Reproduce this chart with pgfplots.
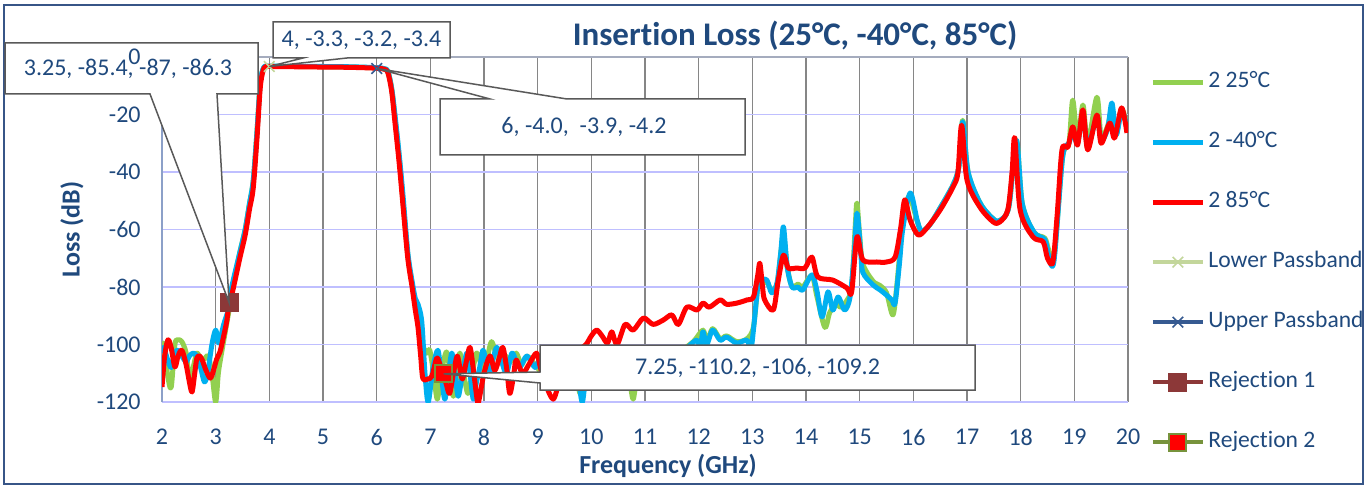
\documentclass[border=0pt]{standalone}
\usepackage{pgfplots}
\pgfplotsset{compat=1.18}
\usepackage{fontspec}
\setmainfont{Carlito}[Ligatures=NoCommon]
\definecolor{txt}{RGB}{31,73,125}
\definecolor{frame}{RGB}{55,85,135}
\definecolor{cgray}{RGB}{89,89,89}
\definecolor{vgrid}{RGB}{134,134,134}
\definecolor{hgrid}{RGB}{191,191,255}
\definecolor{leftaxis}{RGB}{140,160,200}
\definecolor{topline}{RGB}{165,172,190}
\definecolor{cA}{RGB}{146,208,80}
\definecolor{cB}{RGB}{0,176,240}
\definecolor{cC}{RGB}{255,0,0}
\definecolor{lpb}{RGB}{195,214,155}
\definecolor{upb}{RGB}{54,90,145}
\definecolor{rejA}{RGB}{140,56,56}
\definecolor{rejB}{RGB}{119,147,60}
\begin{document}
\begin{tikzpicture}
\path[use as bounding box] (0pt,0pt) rectangle (684pt,244pt);
\draw[frame, line width=0.75pt] (2pt,2pt) rectangle (681.5pt,241.5pt);
\begin{axis}[
  at={(81pt,43pt)}, anchor=south west,
  scale only axis, width=483pt, height=172.5pt,
  xmin=2, xmax=20, ymin=-120, ymax=0,
  clip mode=individual,
  xtick={2,3,4,5,6,7,8,9,10,11,12,13,14,15,16,17,18,19,20},
  xticklabels={2,3,4,5,6,7,8,9,10,11,12,13,14,15,16,17,18,19,20},
  ytick={-120,-100,-80,-60,-40,-20,0},
  yticklabels={-120,-100,-80,-60,-40,-20,{}},
  major tick length=0pt,
  axis line style={draw=none},
  xmajorgrids, ymajorgrids,
  x grid style={color=vgrid, line width=0.6pt},
  y grid style={color=hgrid, line width=0.7pt},
  ticklabel style={font=\fontsize{12}{14}\selectfont, text=txt},
  yticklabel style={inner sep=0pt, xshift=-10.5pt},
  xticklabel style={inner sep=0pt, yshift=-13.5pt},
  xlabel={Frequency (GHz)}, ylabel={Loss (dB)},
  every axis x label/.style={at={(axis description cs:0.5238,-0.1855)}, anchor=center,
    font=\bfseries\fontsize{13}{15}\selectfont, text=txt},
  every axis y label/.style={at={(axis description cs:-0.0932,0.5)}, anchor=center, rotate=90,
    font=\bfseries\fontsize{13}{15}\selectfont, text=txt},
  legend style={at={(axis description cs:1.0228,0.963)}, anchor=north west, draw=none, fill=none,
    font=\fontsize{11.8}{14}\selectfont,
    nodes={inner sep=0pt, text height=8.5pt, text depth=3.5pt, text=txt},
    row sep=18pt, column sep=1.5pt, inner sep=0pt},
  legend cell align=left,
  legend image code/.code={\draw[mark repeat=2,mark phase=2,#1] plot coordinates {(0pt,0pt) (12.5pt,0pt) (25pt,0pt)};},
]
\draw[leftaxis, line width=0.7pt] (axis cs:2,-120) -- (axis cs:2,0);
\draw[topline, line width=0.7pt] (axis cs:2,0) -- (axis cs:20,0);
% 25 C
\addplot[cA, line width=2.5pt, smooth, line join=round] table {
2.00 -108
2.03 -99.5
2.10 -110
2.17 -115
2.24 -100
2.30 -98.4
2.37 -99
2.45 -103
2.51 -112
2.58 -108
2.65 -103
2.72 -105
2.79 -105
2.86 -104
2.93 -110
3.00 -120
3.05 -110
3.10 -104
3.25 -88
3.32 -80
3.45 -68
3.55 -60
3.63 -51
3.70 -43
3.77 -26
3.83 -9
3.88 -4.5
3.92 -3.4
4.00 -3.3
4.50 -3.3
5.00 -3.4
5.50 -3.5
6.00 -3.8
6.15 -4.2
6.21 -5
6.28 -11
6.34 -21
6.42 -35
6.49 -50
6.58 -69
6.66 -79
6.72 -86
6.77 -90
6.86 -100
6.93 -103
6.99 -102
7.06 -110
7.13 -119
7.20 -110
7.30 -102.6
7.37 -110
7.43 -118
7.50 -110
7.55 -103
7.62 -110
7.70 -117
7.78 -110
7.86 -103
7.93 -106
8.00 -111
8.07 -104
8.14 -99
8.22 -103
8.30 -106
8.40 -104
8.50 -106
8.60 -103
8.70 -107
8.80 -104
8.95 -107
9.10 -110
9.30 -108
9.55 -106
9.70 -110
9.79 -117
9.85 -112
10.00 -108
10.20 -110
10.40 -108
10.60 -110
10.72 -114
10.78 -119
10.85 -112
11.00 -107
11.30 -105
11.60 -103
11.90 -99
12.08 -95
12.15 -99
12.26 -94.5
12.40 -98
12.52 -97
12.71 -99
12.90 -98
13.02 -94
13.10 -80
13.14 -78.5
13.27 -78.5
13.36 -81
13.46 -79
13.52 -70
13.58 -62
13.65 -73
13.74 -80
13.85 -79
13.94 -80
14.11 -76
14.20 -83
14.35 -94
14.44 -89
14.55 -86
14.65 -87
14.75 -85
14.85 -80
14.92 -58
14.95 -50.8
15.00 -62
15.06 -72
15.25 -78
15.38 -79.5
15.50 -82
15.62 -89.7
15.70 -78
15.80 -58
15.92 -48.5
16.07 -57
16.15 -60.5
16.30 -58.5
16.50 -52.5
16.74 -44.5
16.85 -38
16.92 -22
17.02 -40
17.25 -51
17.50 -56.5
17.62 -56.8
17.78 -52
17.92 -29
18.03 -51
18.25 -61
18.45 -63
18.52 -67
18.62 -70
18.78 -35
18.90 -30
18.97 -15
19.06 -29
19.16 -16.7
19.25 -30
19.42 -14
19.50 -28
19.62 -24
19.70 -19
19.78 -27
19.88 -18
19.98 -24
};
\addlegendentry{2 25°C}
% -40 C
\addplot[cB, line width=2.5pt, smooth, line join=round] table {
2.00 -103
2.03 -101
2.10 -105
2.17 -108
2.24 -103
2.30 -102
2.37 -104
2.45 -106
2.51 -104
2.58 -103
2.65 -104
2.72 -108
2.79 -113
2.85 -110
2.93 -100
3.00 -95
3.06 -99.5
3.15 -93
3.25 -87
3.30 -80
3.45 -68
3.55 -60
3.63 -51
3.70 -43
3.77 -26
3.83 -9
3.88 -4.3
3.92 -3.2
4.00 -3.2
4.50 -3.2
5.00 -3.3
5.50 -3.4
6.00 -3.7
6.15 -4.1
6.21 -5
6.28 -11
6.34 -20
6.42 -34
6.49 -48
6.58 -68
6.66 -78
6.72 -84
6.77 -86
6.84 -92
6.90 -110
6.96 -120
7.05 -108
7.14 -102
7.20 -110
7.27 -119
7.34 -110
7.40 -103
7.46 -110
7.52 -118
7.60 -110
7.68 -103
7.74 -110
7.80 -119
7.86 -113
7.92 -108
7.98 -102
8.04 -106
8.10 -110
8.17 -105
8.24 -101
8.33 -106
8.42 -110
8.52 -103
8.60 -106
8.67 -108
8.80 -104
8.95 -108
9.05 -105
9.20 -110
9.40 -106
9.60 -108
9.75 -112
9.83 -120
9.90 -112
10.05 -108
10.15 -113
10.25 -108
10.40 -109
10.55 -110
10.70 -112
10.78 -110
10.90 -107
11.10 -106
11.30 -106
11.50 -105
11.70 -103
11.85 -100
11.97 -98.5
12.03 -101
12.08 -95.6
12.15 -100
12.26 -95
12.40 -98.5
12.52 -97.4
12.71 -99.5
12.90 -98.5
12.97 -102
13.02 -95
13.10 -80
13.14 -77.6
13.27 -77.6
13.36 -82
13.46 -78.6
13.53 -68
13.58 -59.1
13.65 -73
13.74 -80
13.85 -80
13.94 -81
14.11 -75.8
14.20 -81
14.30 -90.4
14.41 -81.7
14.50 -88
14.60 -83.5
14.72 -88
14.82 -83.5
14.90 -68
14.95 -54.3
15.02 -68
15.06 -75
15.25 -79.3
15.38 -81
15.50 -82.8
15.60 -84.5
15.66 -85.6
15.74 -72
15.80 -60.2
15.94 -47.3
16.07 -56.7
16.15 -60.5
16.30 -58.5
16.50 -52.5
16.74 -44.5
16.85 -38
16.92 -22.5
17.02 -40
17.25 -51
17.50 -56.5
17.62 -56.8
17.78 -52
17.92 -29
18.03 -51
18.25 -61
18.45 -63.5
18.52 -69
18.62 -71
18.78 -35
18.90 -30
18.97 -26
19.06 -30
19.16 -20
19.25 -31
19.42 -21
19.50 -29
19.62 -25
19.70 -16
19.78 -27
19.88 -19
19.98 -24
};
\addlegendentry{2 -40°C}
% 85 C
\addplot[cC, line width=2.5pt, smooth, line join=round] table {
2.00 -114.8
2.05 -104
2.11 -98.4
2.17 -101
2.24 -107.8
2.30 -104
2.37 -102
2.45 -107
2.51 -113
2.56 -116.5
2.61 -110
2.65 -104.7
2.70 -104
2.75 -105.4
2.82 -109
2.90 -111.7
2.96 -109
3.02 -105
3.08 -102.6
3.15 -97
3.21 -91.5
3.25 -85.4
3.30 -82.8
3.45 -70
3.55 -61.9
3.63 -53
3.70 -45.6
3.77 -28.2
3.83 -10.8
3.88 -5
3.92 -3.5
4.00 -3.3
4.50 -3.4
5.00 -3.5
5.50 -3.6
6.00 -3.9
6.15 -4.3
6.21 -5.5
6.28 -12
6.34 -22.6
6.42 -37
6.49 -51.5
6.58 -70
6.66 -80
6.72 -88
6.77 -94
6.82 -104
6.86 -111.7
6.95 -112
7.03 -111
7.12 -104.7
7.18 -107
7.24 -110
7.30 -114
7.36 -117
7.43 -110
7.50 -104
7.55 -108
7.60 -112
7.67 -106
7.74 -101
7.81 -110
7.88 -120
7.92 -118
8.00 -110
8.11 -104
8.20 -109
8.28 -105
8.35 -101
8.42 -108
8.48 -117
8.55 -111
8.60 -105.4
8.72 -110
8.85 -106.5
8.98 -103
9.05 -108
9.15 -114
9.29 -119
9.40 -113
9.50 -108
9.60 -104
9.75 -102
9.90 -100
10.00 -97
10.10 -95
10.20 -97
10.30 -99.5
10.38 -95.6
10.48 -100
10.63 -93
10.78 -95
10.97 -90.8
11.15 -93
11.34 -91.5
11.50 -89.7
11.62 -93
11.78 -87
11.97 -88
12.08 -85.6
12.20 -87
12.40 -84.5
12.52 -86
12.71 -85.6
12.90 -84.5
13.02 -83.5
13.10 -76
13.14 -71.7
13.19 -80
13.23 -84.5
13.39 -88
13.48 -78
13.58 -68.9
13.67 -73.4
13.83 -73.4
13.98 -73.4
14.11 -69.6
14.22 -76.5
14.50 -77.6
14.76 -80.3
14.85 -81.7
14.95 -62.6
15.06 -70.6
15.32 -71.3
15.50 -71.3
15.66 -69.6
15.76 -60
15.84 -49.7
15.94 -56.7
16.09 -61.9
16.25 -59.5
16.50 -53.2
16.74 -45.2
16.83 -40.3
16.90 -23.7
17.00 -42.8
17.24 -52.2
17.49 -57.4
17.61 -57.4
17.76 -53.2
17.84 -40
17.89 -28.2
17.99 -53.2
18.23 -62.6
18.42 -64.3
18.50 -70
18.60 -71.3
18.68 -55
18.77 -32.3
18.88 -31.3
18.97 -24.3
19.06 -30.6
19.16 -18.4
19.25 -32.3
19.42 -20.2
19.50 -30
19.66 -23
19.75 -28.2
19.88 -17.7
19.98 -26.4
};
\addlegendentry{2 85°C}
\addplot[lpb, line width=2.25pt, mark=x, mark size=3.75pt, mark options={line width=0.8pt, solid}] coordinates {(4,-3.3)};
\addlegendentry{Lower Passband}
\addplot[upb, line width=2.25pt, mark=x, mark size=3.75pt, mark options={line width=0.8pt, solid}] coordinates {(6,-4.0)};
\addlegendentry{Upper Passband}
\addplot[rejA, line width=2.25pt, mark=square*, mark size=4.5pt, mark options={fill=rejA, line width=0.5pt, solid}] coordinates {(3.25,-85.4)};
\addlegendentry{Rejection 1}
\addplot[rejB, line width=2.25pt, mark=square*, mark size=4.25pt, mark options={fill=red, draw=rejB, line width=1pt, solid}] coordinates {(7.25,-110.2)};
\addlegendentry{Rejection 2}
\coordinate (p1) at (axis cs:3.25,-85.4);
\coordinate (p2) at (axis cs:4,-3.3);
\coordinate (p3) at (axis cs:6,-4.0);
\coordinate (p4) at (axis cs:7.25,-110.2);
\end{axis}
\tikzset{cbox/.style={fill=white, draw=cgray, line width=0.75pt, line join=miter},
  ctext/.style={text=txt, font=\fontsize{12}{14}\selectfont, inner sep=0pt}}
\filldraw[cbox] (2.5pt,222.5pt) -- (129pt,222.5pt) -- (129pt,197pt) -- (108.5pt,197pt) -- (p1) -- (75pt,197pt) -- (2.5pt,197pt) -- cycle;
\node[ctext] at (64pt,209.75pt) {3.25, -85.4, -87, -86.3};
\filldraw[cbox] (136.5pt,233pt) -- (225pt,233pt) -- (225pt,215pt) -- (173.5pt,215pt) -- (p2) -- (151.5pt,215pt) -- (136.5pt,215pt) -- cycle;
\node[ctext] at (180.75pt,224pt) {4, -3.3, -3.2, -3.4};
\filldraw[cbox] (220pt,194.5pt) -- (245pt,194.5pt) -- (p3) -- (283.5pt,194.5pt) -- (372.5pt,194.5pt) -- (372.5pt,166.5pt) -- (220pt,166.5pt) -- cycle;
\node[ctext] at (292pt,180.5pt) {6, -4.0, \ -3.9, -4.2};
\filldraw[cbox] (270pt,71.5pt) -- (487.5pt,71.5pt) -- (487.5pt,49pt) -- (270pt,49pt) -- (270pt,52.5pt) -- (p4) -- (270pt,58pt) -- cycle;
\node[ctext] at (378.75pt,60.25pt) {7.25, -110.2, -106, -109.2};
\node[text=txt, font=\fontsize{12}{14}\selectfont, inner sep=0pt, anchor=east] at (70.5pt,215.5pt) {0};
\node[text=txt, font=\bfseries\fontsize{16.5}{19}\selectfont, inner sep=0pt, anchor=base] at (397.5pt,221pt) {Insertion Loss (25°C, -40°C, 85°C)};
\end{tikzpicture}
\end{document}
